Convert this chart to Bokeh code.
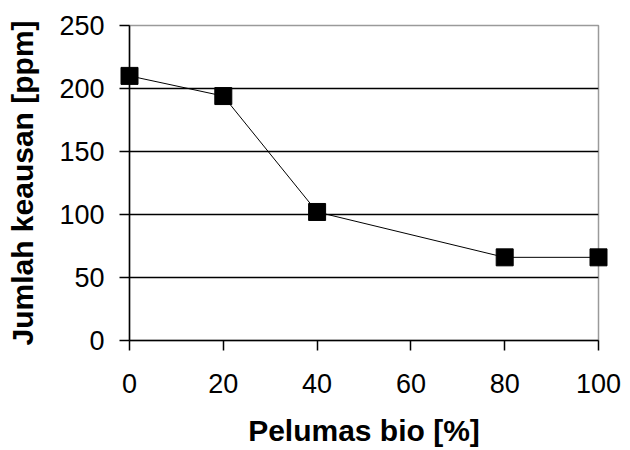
from bokeh.plotting import figure
from bokeh.models import Range1d, FixedTicker
from bokeh.embed import file_html
from bokeh.resources import INLINE

x_vals = [0, 20, 40, 80, 100]
y_vals = [210, 194, 102, 66, 66]
x_ticks = [0, 20, 40, 60, 80, 100]
y_ticks = [0, 50, 100, 150, 200, 250]

p = figure(width=630, height=450, output_backend="svg", toolbar_location=None,
           x_range=Range1d(0, 100), y_range=Range1d(0, 250),
           min_border_left=129, min_border_right=32, min_border_top=25, min_border_bottom=110)

p.background_fill_color = "white"
p.border_fill_color = "white"
p.outline_line_color = "#9a9a9a"
p.outline_line_width = 1.5

p.xgrid.visible = False
p.ygrid.grid_line_color = "black"
p.ygrid.grid_line_width = 1.5
p.ygrid.ticker = FixedTicker(ticks=[t for t in y_ticks if 0 < t < 250])

for ax in (p.xaxis[0], p.yaxis[0]):
    ax.axis_line_color = "black"
    ax.axis_line_width = 1.5
    ax.major_tick_line_color = "black"
    ax.major_tick_line_width = 1.5
    ax.major_tick_out = 10
    ax.major_tick_in = 0
    ax.minor_tick_line_color = None
    ax.major_label_text_font = "Liberation Sans"
    ax.major_label_text_font_size = "27px"
    ax.major_label_text_color = "black"
    ax.axis_label_text_font = "Liberation Sans"
    ax.axis_label_text_font_size = "30px"
    ax.axis_label_text_font_style = "bold"
    ax.axis_label_text_color = "black"

p.xaxis[0].major_label_text_line_height = 0.8
p.xaxis[0].axis_label_text_line_height = 0.8

p.xaxis[0].ticker = FixedTicker(ticks=x_ticks)
p.yaxis[0].ticker = FixedTicker(ticks=y_ticks)
p.xaxis[0].axis_label = "Pelumas bio [%]"
p.yaxis[0].axis_label = "Jumlah keausan [ppm]"
p.xaxis[0].major_label_standoff = 23
p.yaxis[0].major_label_standoff = 15
p.xaxis[0].axis_label_standoff = 18
p.yaxis[0].axis_label_standoff = 17

p.line(x_vals, y_vals, line_color="black", line_width=1, level="overlay")
p.scatter(x_vals, y_vals, marker="square", size=17, fill_color="black",
          line_color="black", level="overlay")

open("out.html", "w").write(file_html(p, INLINE))
